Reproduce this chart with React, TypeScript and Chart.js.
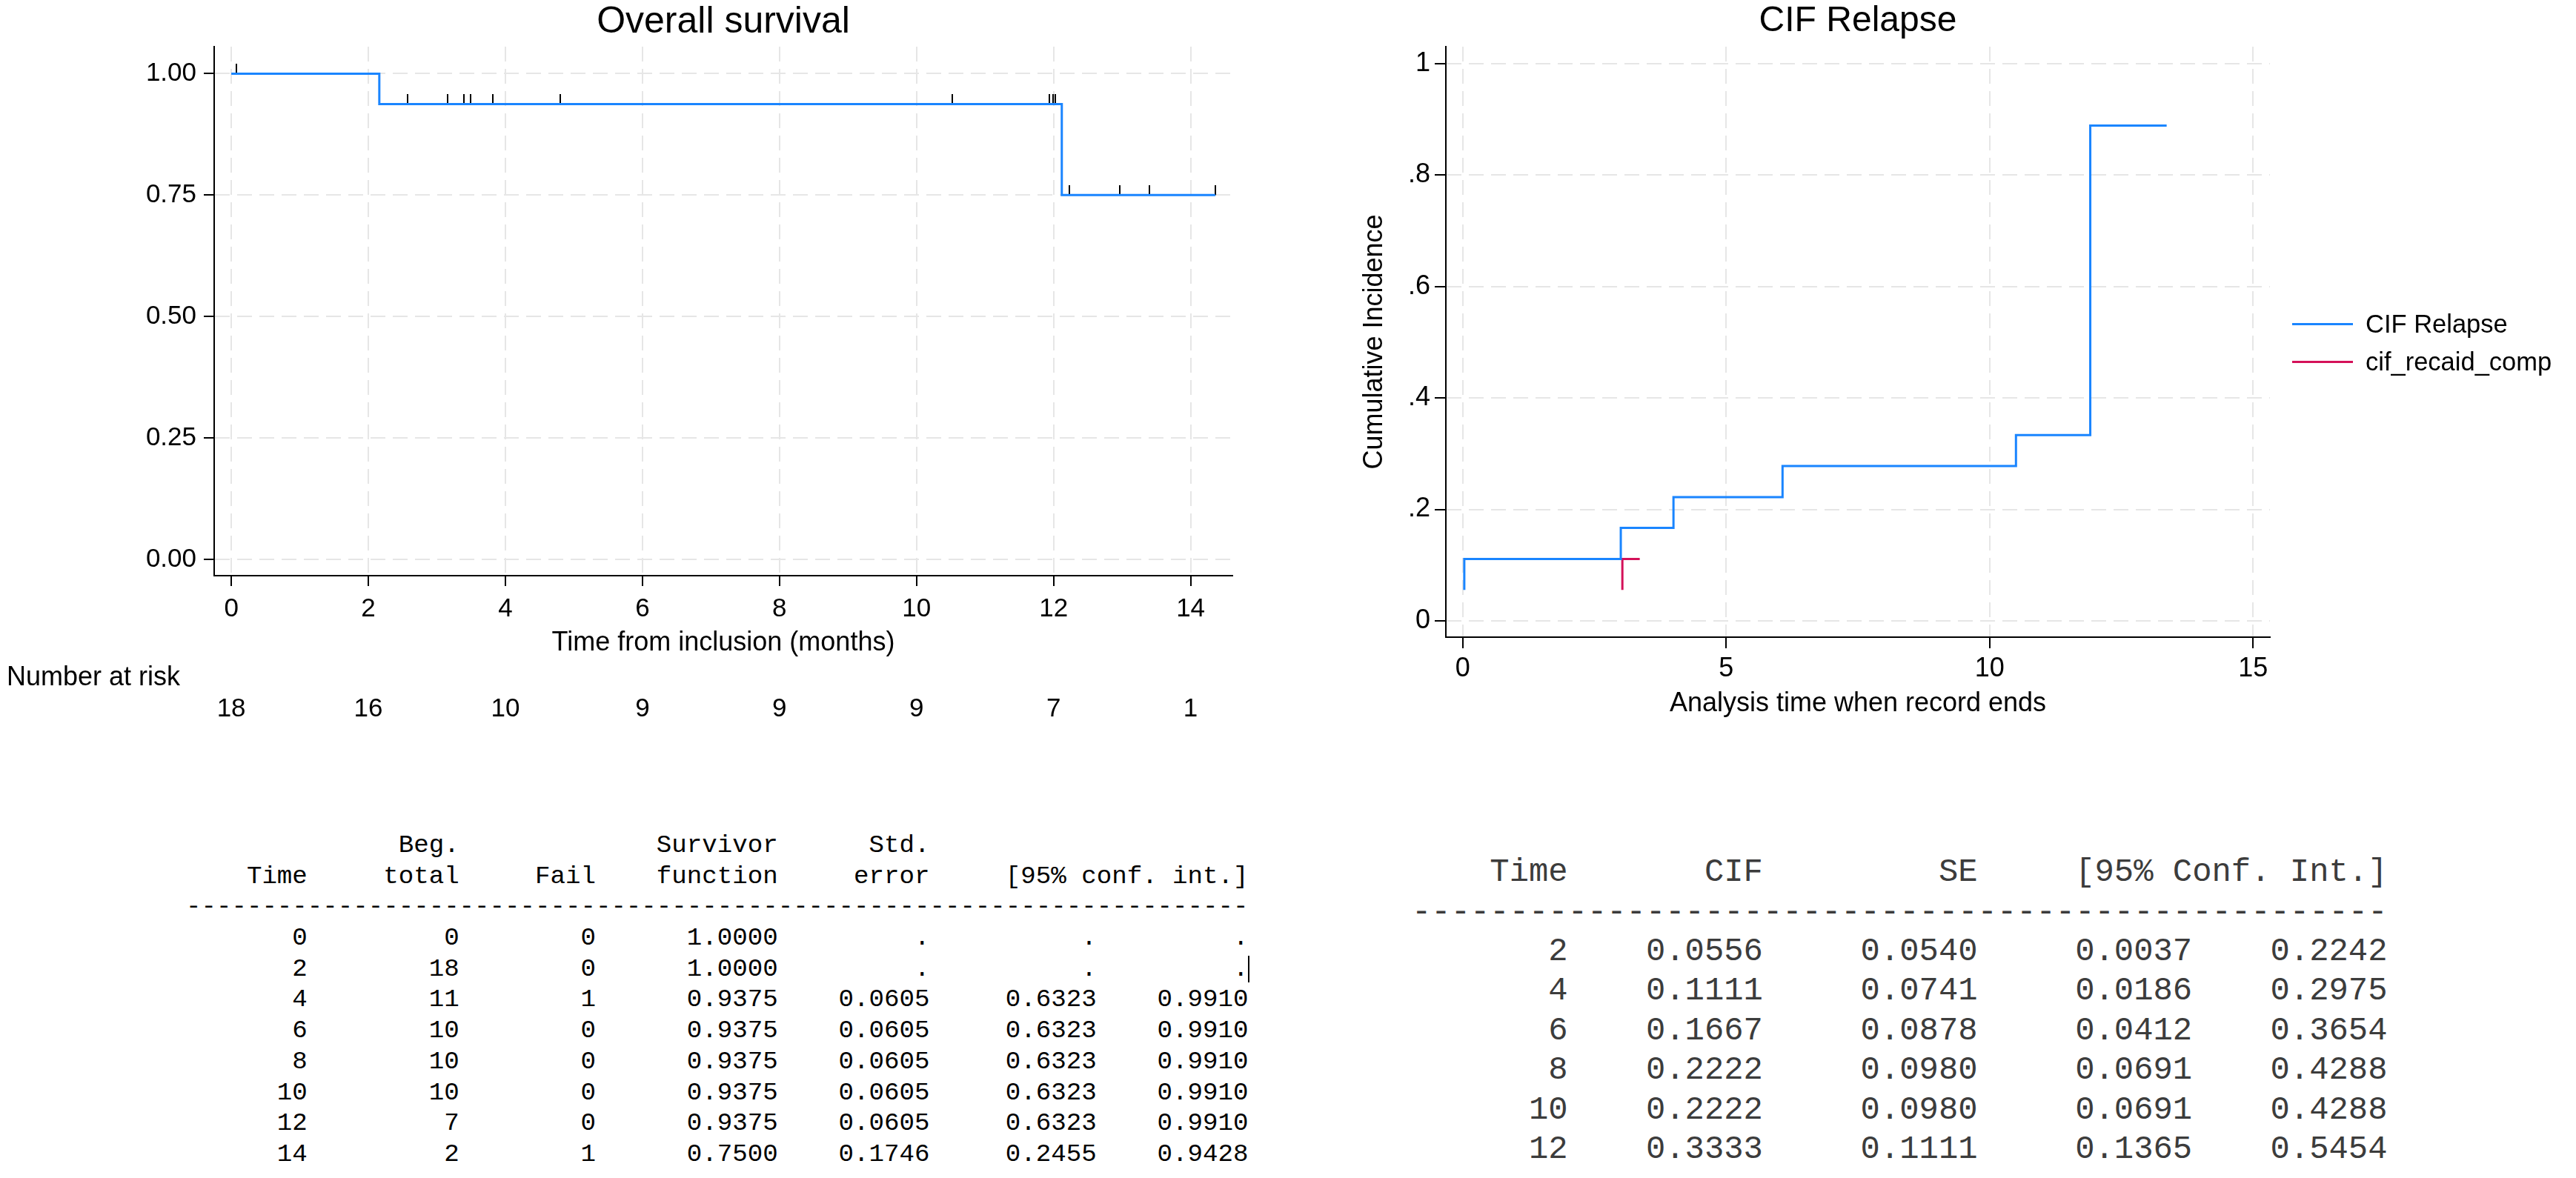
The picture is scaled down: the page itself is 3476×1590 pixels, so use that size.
import React, { useEffect, useRef } from 'react';
import { Chart, registerables } from 'chart.js';
Chart.register(...registerables);

const FONT = "'Liberation Sans', Arial, Helvetica, sans-serif";
const MONO = "'Liberation Mono', 'DejaVu Sans Mono', monospace";

// ---------- Overall survival (Kaplan-Meier) ----------
const kmTimes = [0, 2.16, 12.12, 14.36];
const kmSurvival = [1.0, 0.9375, 0.75, 0.75];
const kmCensorTimes = [0.07, 2.57, 3.16, 3.4, 3.49, 3.82, 4.8, 10.52, 11.94, 11.99, 12.03, 12.23, 12.97, 13.4, 14.36];
const kmXTicks = [0, 2, 4, 6, 8, 10, 12, 14];
const kmYTicks = [0, 0.25, 0.5, 0.75, 1];
const kmYTickLabels = ['0.00', '0.25', '0.50', '0.75', '1.00'];
const atRiskTimes = [0, 2, 4, 6, 8, 10, 12, 14];
const atRiskCounts = [18, 16, 10, 9, 9, 9, 7, 1];

// ---------- CIF Relapse ----------
const cifTimes = [0.03, 0.03, 3.0, 4.0, 6.07, 10.5, 11.91, 13.36];
const cifValues = [0.0556, 0.1111, 0.1667, 0.2222, 0.2778, 0.3333, 0.8889, 0.8889];
const compTimes = [3.03, 3.03, 3.36];
const compValues = [0.0556, 0.1111, 0.1111];
const cifXTicks = [0, 5, 10, 15];
const cifYTicks = [0, 0.2, 0.4, 0.6, 0.8, 1];
const cifYTickLabels = ['0', '.2', '.4', '.6', '.8', '1'];
const seriesNames = ['CIF Relapse', 'cif_recaid_comp'];
const seriesColors = ['#1a85ff', '#d41159'];

// ---------- Survival table ----------
const svTimes = ['0', '2', '4', '6', '8', '10', '12', '14'];
const svBegTotal = ['0', '18', '11', '10', '10', '10', '7', '2'];
const svFail = ['0', '0', '1', '0', '0', '0', '0', '1'];
const svSurv = ['1.0000', '1.0000', '0.9375', '0.9375', '0.9375', '0.9375', '0.9375', '0.7500'];
const svStdErr = ['.', '.', '0.0605', '0.0605', '0.0605', '0.0605', '0.0605', '0.1746'];
const svLower = ['.', '.', '0.6323', '0.6323', '0.6323', '0.6323', '0.6323', '0.2455'];
const svUpper = ['.', '.', '0.9910', '0.9910', '0.9910', '0.9910', '0.9910', '0.9428'];

// ---------- CIF table ----------
const ctTimes = ['2', '4', '6', '8', '10', '12'];
const ctCIF = ['0.0556', '0.1111', '0.1667', '0.2222', '0.2222', '0.3333'];
const ctSE = ['0.0540', '0.0741', '0.0878', '0.0980', '0.0980', '0.1111'];
const ctLower = ['0.0037', '0.0186', '0.0412', '0.0691', '0.0691', '0.1365'];
const ctUpper = ['0.2242', '0.2975', '0.3654', '0.4288', '0.4288', '0.5454'];

function fmtRow(cells: string[], ends: number[]): string {
  let out = '';
  let prev = 0;
  cells.forEach((c, i) => {
    out += c.padStart(ends[i] - prev);
    prev = ends[i];
  });
  return out;
}

const svEnds = [8, 18, 27, 39, 49, 60, 70];
const svLines: string[] = [
  fmtRow(['Beg.', 'Survivor', 'Std.'], [18, 39, 49]),
  fmtRow(['Time', 'total', 'Fail', 'function', 'error', '[95% conf. int.]'], [8, 18, 27, 39, 49, 70]),
  '-'.repeat(70),
  ...svTimes.map((t, i) => fmtRow([t, svBegTotal[i], svFail[i], svSurv[i], svStdErr[i], svLower[i], svUpper[i]], svEnds)),
];
const ctEnds = [8, 18, 29, 40, 50];
const ctLines: string[] = [
  fmtRow(['Time', 'CIF', 'SE', '[95% Conf. Int.]'], [8, 18, 29, 50]),
  '-'.repeat(50),
  ...ctTimes.map((t, i) => fmtRow([t, ctCIF[i], ctSE[i], ctLower[i], ctUpper[i]], ctEnds)),
];

function survAt(t: number): number {
  let v = kmSurvival[0];
  for (let i = 0; i < kmTimes.length; i++) if (kmTimes[i] <= t) v = kmSurvival[i];
  return v;
}

function makeCensorMark(): HTMLCanvasElement {
  const c = document.createElement('canvas');
  c.width = 2;
  c.height = 26;
  const g = c.getContext('2d')!;
  g.fillStyle = '#000';
  g.fillRect(0, 0, 2, 13);
  return c;
}

const atRiskPlugin = {
  id: 'atRisk',
  afterDraw(chart: any) {
    const { ctx } = chart;
    const xs = chart.scales.x;
    ctx.save();
    ctx.fillStyle = '#000';
    ctx.textBaseline = 'middle';
    ctx.textAlign = 'left';
    ctx.font = `36px ${FONT}`;
    ctx.fillText('Number at risk', 9, 915);
    ctx.font = `35px ${FONT}`;
    ctx.textAlign = 'center';
    atRiskTimes.forEach((t, i) => ctx.fillText(String(atRiskCounts[i]), xs.getPixelForValue(t), 957));
    ctx.restore();
  },
};

const gridCommon = {
  color: '#e6e6e6',
  lineWidth: 2,
  tickColor: '#000',
  tickWidth: 2,
  drawTicks: true,
};

export default function App() {
  const leftRef = useRef<HTMLCanvasElement>(null);
  const rightRef = useRef<HTMLCanvasElement>(null);

  useEffect(() => {
    document.body.style.margin = '0';
    const mark = makeCensorMark();

    const left = new Chart(leftRef.current!, {
      type: 'line',
      data: {
        datasets: [
          {
            label: 'Survivor function',
            data: kmTimes.map((t, i) => ({ x: t, y: kmSurvival[i] })),
            borderColor: seriesColors[0],
            backgroundColor: seriesColors[0],
            borderWidth: 3,
            stepped: 'before',
            pointRadius: 0,
            fill: false,
          },
          {
            label: 'Censored',
            data: kmCensorTimes.map((t) => ({ x: t, y: survAt(t) })),
            showLine: false,
            pointStyle: mark as any,
            pointRadius: 7,
            borderColor: '#000',
            backgroundColor: '#000',
          },
        ],
      },
      options: {
        responsive: false,
        animation: false,
        layout: { padding: { left: 0, right: 1760 - 1663, top: 0, bottom: 1000 - 889.6 } },
        plugins: {
          legend: { display: false },
          tooltip: { enabled: false },
          title: {
            display: true,
            text: 'Overall survival',
            fullSize: false,
            color: '#000',
            font: { family: FONT, size: 50, weight: 'normal', lineHeight: 1.2 },
            padding: { top: 0, bottom: 3 },
          },
        },
        scales: {
          x: {
            type: 'linear',
            min: -0.25,
            max: 14.61,
            afterBuildTicks: (s: any) => { s.ticks = kmXTicks.map((v) => ({ value: v })); },
            afterFit: (s: any) => { s.height = 112.6; },
            ticks: { font: { family: FONT, size: 35 }, color: '#000', padding: 10, autoSkip: false, maxRotation: 0, callback: (v: any) => String(v) },
            grid: { ...gridCommon, tickLength: 14 },
            border: { display: true, color: '#000', width: 2, dash: [20, 10] },
            title: { display: true, text: 'Time from inclusion (months)', color: '#000', font: { family: FONT, size: 36, lineHeight: 1.2 }, padding: { top: 0, bottom: 0 } },
          },
          y: {
            type: 'linear',
            min: -0.0335,
            max: 1.0556,
            afterBuildTicks: (s: any) => { s.ticks = kmYTicks.map((v) => ({ value: v })); },
            afterFit: (s: any) => { s.width = 289; },
            ticks: { font: { family: FONT, size: 35 }, color: '#000', padding: 10, autoSkip: false, callback: (_v: any, i: number) => kmYTickLabels[i] },
            grid: { ...gridCommon, tickLength: 14 },
            border: { display: true, color: '#000', width: 2, dash: [20, 10] },
          },
        },
      },
      plugins: [atRiskPlugin],
    } as any);

    const right = new Chart(rightRef.current!, {
      type: 'line',
      data: {
        datasets: [
          {
            label: seriesNames[0],
            data: cifTimes.map((t, i) => ({ x: t, y: cifValues[i] })),
            borderColor: seriesColors[0],
            backgroundColor: seriesColors[0],
            borderWidth: 3,
            stepped: 'before',
            pointRadius: 0,
            fill: false,
          },
          {
            label: seriesNames[1],
            data: compTimes.map((t, i) => ({ x: t, y: compValues[i] })),
            borderColor: seriesColors[1],
            backgroundColor: seriesColors[1],
            borderWidth: 3,
            stepped: 'before',
            pointRadius: 0,
            fill: false,
          },
        ],
      },
      options: {
        responsive: false,
        animation: false,
        layout: { padding: { left: 73, right: 1716 - 1303, top: 0, bottom: 1000 - 971.6 } },
        plugins: {
          legend: { display: false },
          tooltip: { enabled: false },
          title: {
            display: true,
            text: 'CIF Relapse',
            fullSize: false,
            color: '#000',
            font: { family: FONT, size: 48, weight: 'normal', lineHeight: 1.2 },
            padding: { top: 0, bottom: 5.4 },
          },
        },
        scales: {
          x: {
            type: 'linear',
            min: -0.32,
            max: 15.32,
            afterBuildTicks: (s: any) => { s.ticks = cifXTicks.map((v) => ({ value: v })); },
            afterFit: (s: any) => { s.height = 111.6; },
            ticks: { font: { family: FONT, size: 36 }, color: '#000', padding: 6.4, autoSkip: false, maxRotation: 0, callback: (v: any) => String(v) },
            grid: { ...gridCommon, tickLength: 15 },
            border: { display: true, color: '#000', width: 2, dash: [20, 10] },
            title: { display: true, text: 'Analysis time when record ends', color: '#000', font: { family: FONT, size: 36, lineHeight: 1.2 }, padding: { top: 0, bottom: 0 } },
          },
          y: {
            type: 'linear',
            min: -0.0293,
            max: 1.0306,
            afterBuildTicks: (s: any) => { s.ticks = cifYTicks.map((v) => ({ value: v })); },
            afterFit: (s: any) => { s.width = 118; },
            ticks: { font: { family: FONT, size: 36 }, color: '#000', padding: 6, autoSkip: false, callback: (_v: any, i: number) => cifYTickLabels[i] },
            grid: { ...gridCommon, tickLength: 15 },
            border: { display: true, color: '#000', width: 2, dash: [20, 10] },
            title: { display: true, text: 'Cumulative Incidence', color: '#000', font: { family: FONT, size: 36, lineHeight: 1.2 }, padding: { top: 0, bottom: 0 } },
          },
        },
      },
    } as any);

    return () => {
      left.destroy();
      right.destroy();
    };
  }, []);

  const legendTops = [437, 488];

  return (
    <div style={{ position: 'absolute', left: 0, top: 0, width: 3476, height: 1590, background: '#fff', overflow: 'hidden' }}>
      <canvas ref={leftRef} width={1760} height={1000} style={{ position: 'absolute', left: 0, top: 0 }} />
      <canvas ref={rightRef} width={1716} height={1000} style={{ position: 'absolute', left: 1760, top: 0 }} />

      {seriesNames.map((name, i) => (
        <div key={name} style={{ position: 'absolute', left: 3093, top: legendTops[i] - 20, height: 40, display: 'flex', alignItems: 'center' }}>
          <div style={{ width: 82, height: 3, background: seriesColors[i] }} />
          <div style={{ marginLeft: 17, fontFamily: FONT, fontSize: 34.5, color: '#000', whiteSpace: 'nowrap', lineHeight: '40px' }}>{name}</div>
        </div>
      ))}

      <div style={{ position: 'absolute', left: 251, top: 1121, fontFamily: MONO, fontSize: 34.13, color: '#000' }}>
        {svLines.map((ln, i) => (
          <div key={i} style={{ whiteSpace: 'pre', height: 41.7, lineHeight: '41.7px' }}>
            {ln}
            {i === 4 ? <span style={{ display: 'inline-block', width: 0, height: 36, borderLeft: '2px solid #000', verticalAlign: 'middle' }} /> : null}
          </div>
        ))}
      </div>

      <div style={{ position: 'absolute', left: 1905, top: 1151.3, fontFamily: MONO, fontSize: 43.88, color: '#3c3c3c' }}>
        {ctLines.map((ln, i) => (
          <div key={i} style={{ whiteSpace: 'pre', height: 53.4, lineHeight: '53.4px' }}>{ln}</div>
        ))}
      </div>
    </div>
  );
}
